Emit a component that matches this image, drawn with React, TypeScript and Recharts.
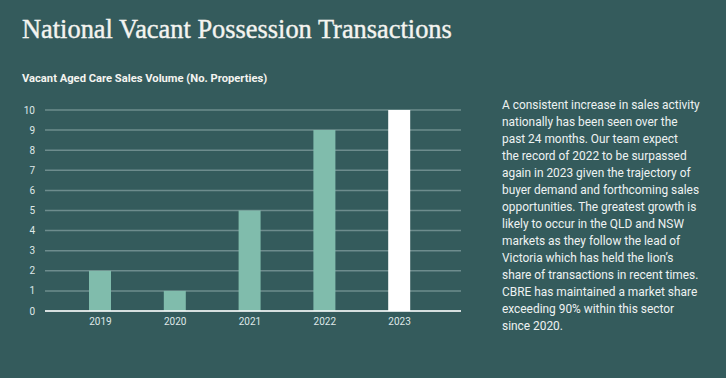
import { BarChart, Bar, XAxis, YAxis, CartesianGrid, Cell } from 'recharts';

const years = ['2019', '2020', '2021', '2022', '2023'];
const volumes = [2, 1, 5, 9, 10];
const yTicks = [0, 1, 2, 3, 4, 5, 6, 7, 8, 9, 10];
const highlightYear = '2023';

const commentary = [
  'A consistent increase in sales activity',
  'nationally has been seen over the',
  'past 24 months. Our team expect',
  'the record of 2022 to be surpassed',
  'again in 2023 given the trajectory of',
  'buyer demand and forthcoming sales',
  'opportunities. The greatest growth is',
  'likely to occur in the QLD and NSW',
  'markets as they follow the lead of',
  'Victoria which has held the lion\u2019s',
  'share of transactions in recent times.',
  'CBRE has maintained a market share',
  'exceeding 90% within this sector',
  'since 2020.',
];

const BG = '#345b5c';
const MINT = '#80bcac';

export default function App() {
  const data = years.map((year, i) => ({ year, volume: volumes[i] }));

  return (
    <div
      style={{
        position: 'fixed',
        left: 0,
        top: 0,
        width: 726,
        height: 378,
        background: BG,
        overflow: 'hidden',
      }}
    >
      <div
        style={{
          position: 'absolute',
          left: 22,
          top: 14,
          fontFamily: '"Liberation Serif", serif',
          fontSize: 26.4,
          color: '#f4f4f0',
          WebkitTextStroke: '0.4px #f4f4f0',
          whiteSpace: 'nowrap',
        }}
      >
        National Vacant Possession Transactions
      </div>
      <div
        style={{
          position: 'absolute',
          left: 22,
          top: 72,
          fontFamily: 'Roboto, sans-serif',
          fontWeight: 700,
          fontSize: 11.2,
          color: '#f4f4f0',
          whiteSpace: 'nowrap',
        }}
      >
        Vacant Aged Care Sales Volume (No. Properties)
      </div>

      <div style={{ position: 'absolute', left: 0, top: 0 }}>
        <BarChart
          width={726}
          height={378}
          data={data}
          margin={{ top: 110, right: 265, bottom: 0, left: 0 }}
        >
          <CartesianGrid vertical={false} stroke="#6d8c8d" strokeWidth={1.5} />
          <XAxis
            dataKey="year"
            height={67}
            padding={{ left: 18, right: 24 }}
            tickSize={0}
            tickMargin={7}
            axisLine={{ stroke: '#ffffff', strokeWidth: 1.5 }}
            tick={{ fill: '#dfe8e8', fontSize: 10, fontFamily: 'Roboto, sans-serif' }}
          />
          <YAxis
            width={45}
            domain={[0, 10]}
            ticks={yTicks}
            interval={0}
            tickSize={0}
            tickMargin={10}
            axisLine={false}
            tick={{ fill: '#dfe8e8', fontSize: 10, fontFamily: 'Roboto, sans-serif' }}
          />
          <Bar dataKey="volume" barSize={22} isAnimationActive={false}>
            {data.map((d) => (
              <Cell key={d.year} fill={d.year === highlightYear ? '#ffffff' : MINT} />
            ))}
          </Bar>
        </BarChart>
      </div>

      <div
        style={{
          position: 'absolute',
          left: 502,
          top: 97,
          fontFamily: 'Roboto, sans-serif',
          fontSize: 11.9,
          lineHeight: '17px',
          color: '#eef2f2',
          whiteSpace: 'nowrap',
        }}
      >
        {commentary.map((line, i) => (
          <div key={i}>{line}</div>
        ))}
      </div>
    </div>
  );
}
